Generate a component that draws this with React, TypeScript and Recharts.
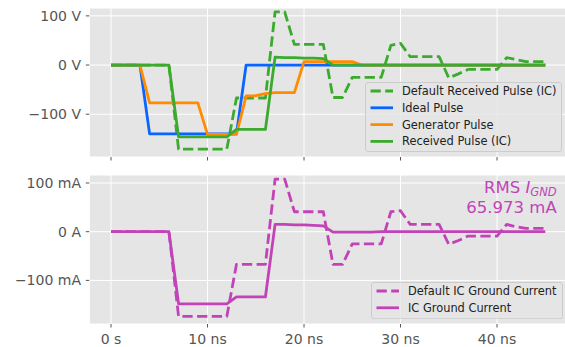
import React from "react";
import { Line, LineChart, XAxis, YAxis, CartesianGrid, Legend } from "recharts";

// time axis (ns)
const timeNs = [
  0, 1, 2, 3, 4, 5, 6, 7, 8, 9, 10, 11, 12, 13, 14, 15, 16, 17, 18, 19, 20, 21, 22,
  23, 24, 25, 26, 27, 28, 29, 30, 31, 32, 33, 34, 35, 36, 37, 38, 39, 40, 41, 42, 43,
  44, 45,
];

// voltages (V)
const defaultReceived = [
  0, 0, 0, 0, 0, 0, 0, -171, -171, -171, -171, -171, -171, -67, -67, -67, -67, 108,
  108, 42, 42, 42, 42, -66, -66, -25, -25, -25, -25, 40, 44, 17, 17, 17, 17, -26, -18,
  -9, -9, -9, -9, 15, 11, 7, 7, 7,
];
const idealPulse = [
  0, 0, 0, 0, -140, -140, -140, -140, -140, -140, -140, -140, -140, -140, 0, 0, 0, 0,
  0, 0, 0, 0, 0, 0, 0, 0, 0, 0, 0, 0, 0, 0, 0, 0, 0, 0, 0, 0, 0, 0, 0, 0, 0, 0, 0, 0,
];
const generatorPulse = [
  0, 0, 0, 0, -77, -77, -77, -77, -77, -77, -141, -141, -141, -141, -63, -62, -58, -56,
  -56, -56, 7, 7, 7, 7, 7, 7, 0, 0, 0, 0, 0, 0, 0, 0, 0, 0, 0, 0, 0, 0, 0, 0, 0, 0, 0, 0,
];
const receivedPulse = [
  0, 0, 0, 0, 0, 0, 0, -146, -146, -146, -146, -146, -146, -131, -131, -131, -131, 16,
  15, 15, 14, 14, 13, 0, 0, 0, 0, 0, 0, 0, 0, 0, 0, 0, 0, 0, 0, 0, 0, 0, 0, 0, 0, 0, 0, 0,
];

// currents (mA)
const defaultGroundCurrent = [
  0, 0, 0, 0, 0, 0, 0, -174, -174, -174, -174, -174, -174, -67, -67, -67, -67, 108,
  108, 41, 41, 41, 41, -67, -67, -25, -25, -25, -25, 41, 43, 15, 15, 15, 15, -26, -18,
  -9, -9, -9, -9, 15, 10, 7, 7, 7,
];
const groundCurrent = [
  0, 0, 0, 0, 0, 0, 0, -148, -148, -148, -148, -148, -148, -134, -134, -134, -134, 15,
  15, 14, 14, 13, 12, -1, -1, -1, -1, -1, 0, 0, 0, 0, 0, 0, 0, 0, 0, 0, 0, 0, 0, 0, 0,
  0, 0, 0,
];

const xTicks = [0, 10, 20, 30, 40];
const yTicks = [-100, 0, 100];
const rmsLabel = "65.973 mA";

const GREEN = "#3BAA2E";
const BLUE = "#0A64FF";
const ORANGE = "#FF8C00";
const MAGENTA = "#C243B8";
const FONT = "DejaVu Sans";

const voltageData = timeNs.map((t, i) => ({
  t,
  defaultReceived: defaultReceived[i],
  ideal: idealPulse[i],
  generator: generatorPulse[i],
  received: receivedPulse[i],
}));

const currentData = timeNs.map((t, i) => ({
  t,
  defaultCurrent: defaultGroundCurrent[i],
  current: groundCurrent[i],
}));

type Series = { key: string; name: string; color: string; dashed: boolean };

const voltageSeries: Series[] = [
  { key: "defaultReceived", name: "Default Received Pulse (IC)", color: GREEN, dashed: true },
  { key: "ideal", name: "Ideal Pulse", color: BLUE, dashed: false },
  { key: "generator", name: "Generator Pulse", color: ORANGE, dashed: false },
  { key: "received", name: "Received Pulse (IC)", color: GREEN, dashed: false },
];

const currentSeries: Series[] = [
  { key: "defaultCurrent", name: "Default IC Ground Current", color: MAGENTA, dashed: true },
  { key: "current", name: "IC Ground Current", color: MAGENTA, dashed: false },
];

const DASH = "10.3 4.4";
const minus = (v: number) => (v < 0 ? "\u2212" : "") + Math.abs(v);
const fmtVolt = (v: number) => `${minus(v)} V`;
const fmtAmp = (v: number) => (v === 0 ? "0 A" : `${minus(v)} mA`);
const fmtTime = (v: number) => (v === 0 ? "0 s" : `${v} ns`);

const LegendBox = ({ items, width, height }: { items: Series[]; width: number; height: number }) => (
  <svg width={width} height={height} style={{ display: "block", fontFamily: FONT }}>
    <rect
      x={0.5}
      y={0.5}
      width={width - 1}
      height={height - 1}
      rx={2.5}
      fill="#E5E5E5"
      fillOpacity={0.8}
      stroke="#CCCCCC"
    />
    {items.map((it, i) => {
      const y = 9 + i * 16.8;
      return (
        <g key={it.key}>
          <line
            x1={5.5}
            x2={28}
            y1={y}
            y2={y}
            stroke={it.color}
            strokeWidth={2.8}
            strokeDasharray={it.dashed ? DASH : undefined}
          />
          <text x={37} y={y + 4} fontSize={11.4} fill="#222">
            {it.name}
          </text>
        </g>
      );
    })}
  </svg>
);

const tickStyle = { fill: "#555555", fontSize: 14, fontFamily: FONT };

const renderLines = (series: Series[]) =>
  series.map((s) => (
    <Line
      key={s.key}
      type="linear"
      dataKey={s.key}
      name={s.name}
      stroke={s.color}
      strokeWidth={2.8}
      strokeDasharray={s.dashed ? DASH : undefined}
      strokeLinejoin="round"
      dot={false}
      activeDot={false}
      isAnimationActive={false}
    />
  ));

export default function App() {
  return (
    <div
      style={{
        position: "absolute",
        left: 0,
        top: 0,
        width: 565,
        height: 347,
        overflow: "hidden",
        background: "#fff",
        fontFamily: FONT,
      }}
    >
      <div style={{ position: "absolute", left: 0, top: 0 }}>
        <LineChart
          width={600}
          height={170}
          data={voltageData}
          margin={{ top: 8, right: 33, bottom: 0, left: 0 }}
        >
          <CartesianGrid fill="#E5E5E5" stroke="#FFFFFF" strokeWidth={1} />
          <XAxis
            dataKey="t"
            type="number"
            domain={[-2.25, 47.25]}
            ticks={xTicks}
            allowDataOverflow
            height={13}
            axisLine={false}
            tickLine={{ stroke: "#555555" }}
            tickSize={3.5}
            tickFormatter={() => ""}
          />
          <YAxis
            type="number"
            domain={[-187, 116]}
            ticks={yTicks}
            allowDataOverflow
            width={89.3}
            axisLine={false}
            tickLine={{ stroke: "#555555" }}
            tickSize={3.5}
            tickMargin={4.8}
            tick={tickStyle}
            tickFormatter={fmtVolt}
          />
          {renderLines(voltageSeries)}
          <Legend
            layout="vertical"
            align="center"
            verticalAlign="middle"
            wrapperStyle={{ left: 365, top: 81.7, width: 197, height: 70 }}
            content={() => <LegendBox items={voltageSeries} width={197} height={70} />}
          />
        </LineChart>
      </div>
      <div style={{ position: "absolute", left: 0, top: 167 }}>
        <LineChart
          width={600}
          height={180}
          data={currentData}
          margin={{ top: 8, right: 33, bottom: 0, left: 0 }}
        >
          <CartesianGrid fill="#E5E5E5" stroke="#FFFFFF" strokeWidth={1} />
          <XAxis
            dataKey="t"
            type="number"
            domain={[-2.25, 47.25]}
            ticks={xTicks}
            allowDataOverflow
            height={23}
            axisLine={false}
            tickLine={{ stroke: "#555555" }}
            tickSize={3.5}
            tickMargin={6.5}
            tick={tickStyle}
            tickFormatter={fmtTime}
          />
          <YAxis
            type="number"
            domain={[-189.5, 116.4]}
            ticks={yTicks}
            allowDataOverflow
            width={89.3}
            axisLine={false}
            tickLine={{ stroke: "#555555" }}
            tickSize={3.5}
            tickMargin={4.8}
            tick={tickStyle}
            tickFormatter={fmtAmp}
          />
          {renderLines(currentSeries)}
          <Legend
            layout="vertical"
            align="center"
            verticalAlign="middle"
            wrapperStyle={{ left: 371, top: 114.7, width: 192, height: 37.3 }}
            content={() => <LegendBox items={currentSeries} width={192} height={37.3} />}
          />
        </LineChart>
      </div>
      <svg
        width={565}
        height={347}
        style={{ position: "absolute", left: 0, top: 0, pointerEvents: "none" }}
      >
        <text x={556.7} y={193.3} textAnchor="end" fontSize={16.5} fill={MAGENTA} fontFamily={FONT}>
          RMS <tspan fontStyle="italic">I</tspan>
          <tspan fontStyle="italic" fontSize={11.5} dy={2.5}>
            GND
          </tspan>
        </text>
        <text x={556.7} y={213.3} textAnchor="end" fontSize={16.5} fill={MAGENTA} fontFamily={FONT}>
          {rmsLabel}
        </text>
      </svg>
    </div>
  );
}
